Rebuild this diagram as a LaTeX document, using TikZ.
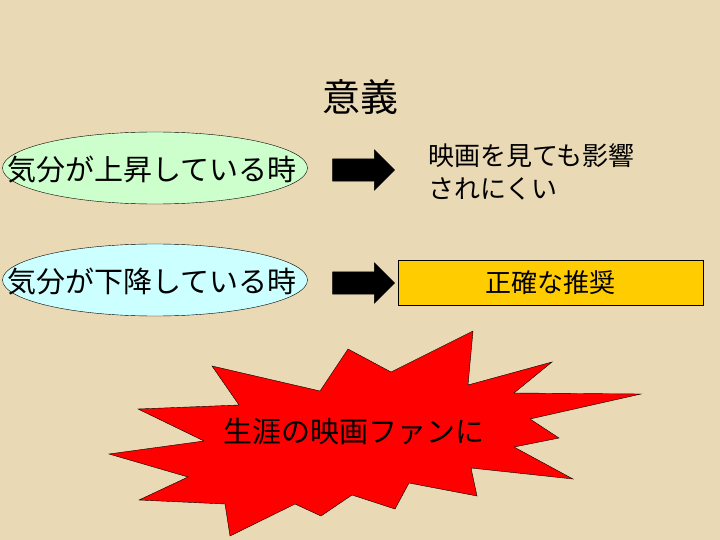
\documentclass[tikz,border=0pt]{standalone}
\usepackage{fontspec}
\setmainfont{Noto Sans CJK JP}
\usetikzlibrary{shapes.geometric,shapes.arrows}
\definecolor{bg}{HTML}{E9D9B4}
\definecolor{ovA}{HTML}{CCFFCC}
\definecolor{ovB}{HTML}{CCFFFF}
\definecolor{yel}{HTML}{FFCC00}
\tikzset{
 oval/.style={ellipse,draw=black,minimum width=305pt,minimum height=72pt,inner sep=0pt},
 ovtxt/.style={font=\fontsize{29}{32}\selectfont,inner sep=0pt},
 blk/.style={single arrow,fill=black,draw=black,minimum height=62pt,minimum width=40pt,single arrow head extend=9pt,inner sep=0pt,text height=22pt,text depth=0pt,text width=0pt},
 txt/.style={font=\fontsize{26}{33}\selectfont,inner sep=0pt}
}
\begin{document}
\begin{tikzpicture}[x=1pt,y=-1pt]
\fill[bg] (0,0) rectangle (720,540);
\useasboundingbox (0,0) rectangle (720,540);
\node[font=\fontsize{38}{42}\selectfont] (title) at (360,97) {意義};
\node[oval,fill=ovA] (o1) at (155,168) {};
\node[ovtxt] (o1t) at (152,170) {気分が上昇している時};
\node[oval,fill=ovB] (o2) at (155,280) {};
\node[ovtxt] (o2t) at (152,282) {気分が下降している時};
\node[blk] (a1) at (358,170) {};
\node[blk] (a2) at (358,283) {};
\node[txt,anchor=north west,align=left] (t1) at (428,143) {映画を見ても影響\\されにくい};
\node[draw=black,fill=yel,minimum width=305pt,minimum height=45pt,txt] (y) at (550.5,282.5) {正確な推奨};
\draw[fill=red,draw=black] (212,366) -- (320,391) -- (348,349) -- (391,372) -- (473,331) -- (468,385) -- (552,362) -- (514,393) -- (641,394) -- (530,419) -- (559,438) -- (514,447) -- (573,479) -- (471,468) -- (477,496) -- (409,483) -- (395,509) -- (352,495) -- (321,516) -- (295,504) -- (230,536) -- (225,504) -- (139,500) -- (188,477) -- (109,454) -- (204,441) -- (138,409) -- (239,405) -- cycle;
\node[font=\fontsize{29}{32}\selectfont] (s) at (354,432) {生涯の映画ファンに};
\end{tikzpicture}
\end{document}
